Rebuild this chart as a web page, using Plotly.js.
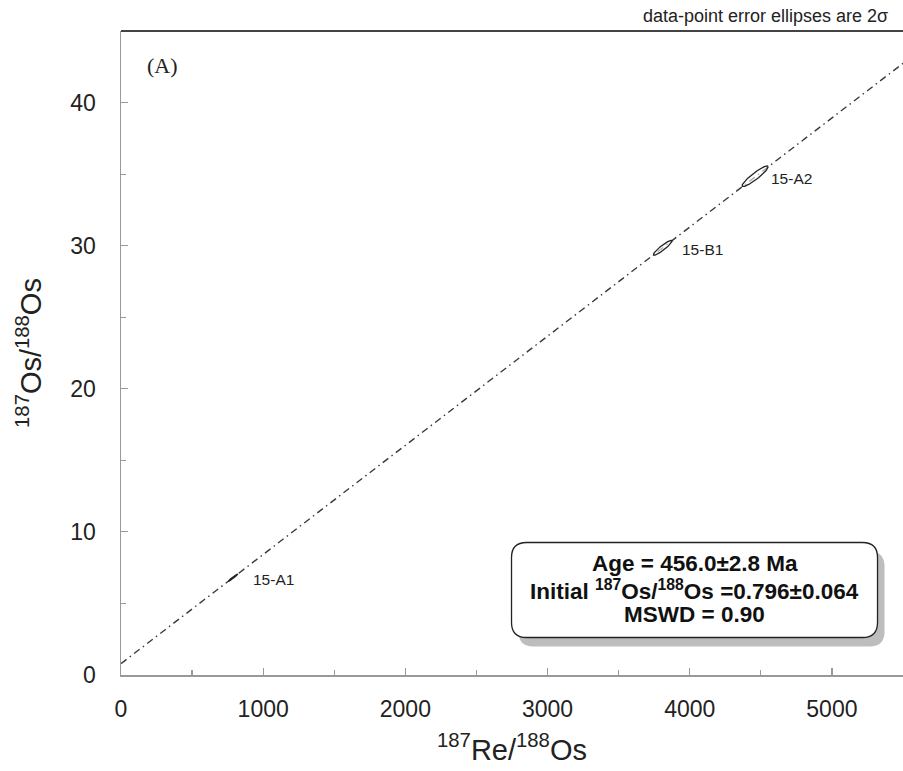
<!DOCTYPE html>
<html>
<head>
<meta charset="utf-8">
<script src="https://cdn.plot.ly/plotly-3.0.1.min.js"></script>
<style>
  html, body { margin: 0; padding: 0; background: #fff; }
  #chart { width: 903px; height: 771px; }
</style>
</head>
<body>
<div id="chart"></div>
<script>
// Re-Os isochron samples: 187Re/188Os, 187Os/188Os, 2-sigma half-widths and error correlation
const sampleNames = ['15-A1', '15-B1', '15-A2'];
const reOs = [788, 3810, 4460];
const osOs = [6.80, 29.85, 34.85];
const err2sRe = [34, 66, 92];
const err2sOs = [0.26, 0.52, 0.72];
const errRho = [0.98, 0.92, 0.92];

// Isochron result
const ageMa = 456.0;
const ageErr = 2.8;
const initialOs = 0.796;
const initialErr = 0.064;
const mswd = 0.90;
const lambdaRe = 1.666e-11; // 187Re decay constant, 1/yr

const xRange = [0, 5500];
const yRange = [0, 45];

const slope = Math.exp(lambdaRe * ageMa * 1e6) - 1;

// error ellipse outline from the 2-sigma half-widths and correlation
function ellipse(cx, cy, sx, sy, rho) {
  const xs = [], ys = [];
  const k = Math.sqrt(1 - rho * rho);
  for (let i = 0; i <= 120; i++) {
    const t = 2 * Math.PI * i / 120;
    xs.push(cx + sx * Math.cos(t));
    ys.push(cy + sy * (rho * Math.cos(t) + k * Math.sin(t)));
  }
  return { xs, ys };
}

const traces = [];

// isochron line
traces.push({
  x: xRange,
  y: xRange.map(v => initialOs + slope * v),
  mode: 'lines',
  line: { color: '#3a3a3a', width: 1.4, dash: '7px,4px,1.5px,4px' },
  hoverinfo: 'skip',
  showlegend: false
});

// error ellipses
for (let i = 0; i < reOs.length; i++) {
  const e = ellipse(reOs[i], osOs[i], err2sRe[i], err2sOs[i], errRho[i]);
  traces.push({
    x: e.xs, y: e.ys,
    mode: 'lines',
    line: { color: '#222', width: 1.3 },
    fill: 'toself',
    fillcolor: 'rgba(255,255,255,0.6)',
    name: sampleNames[i],
    showlegend: false
  });
}

const labelShift = [18, 17, 14];
const annotations = sampleNames.map((n, i) => ({
  x: reOs[i], y: osOs[i], xref: 'x', yref: 'y',
  text: n, showarrow: false,
  xanchor: 'left', yanchor: 'middle', xshift: labelShift[i], yshift: -2,
  font: { family: 'Liberation Sans, Arial, sans-serif', size: 15.5, color: '#222' }
}));

const boxFont = { family: 'Liberation Sans, Arial, sans-serif', size: 22.5, color: '#111' };
const supStyle = 'font-size:15px';
const boxLines = [
  '<b>Age = ' + ageMa.toFixed(1) + '±' + ageErr.toFixed(1) + ' Ma</b>',
  '<b>Initial <sup style="' + supStyle + '">187</sup>Os/<sup style="' + supStyle + '">188</sup>Os =' +
    initialOs.toFixed(3) + '±' + initialErr.toFixed(3) + '</b>',
  '<b>MSWD = ' + mswd.toFixed(2) + '</b>'
];
const boxCx = 0.7334;
const boxLineY = [0.1724, 0.1320, 0.0932];
boxLines.forEach((t, i) => annotations.push({
  x: boxCx, y: boxLineY[i], xref: 'paper', yref: 'paper',
  text: t, showarrow: false, xanchor: 'center', yanchor: 'middle',
  font: boxFont
}));

annotations.push({
  x: 0.031, y: 0.947, xref: 'paper', yref: 'paper',
  text: '(A)', showarrow: false, xanchor: 'left', yanchor: 'middle',
  font: { family: 'Liberation Serif, Times New Roman, serif', size: 22, color: '#222' }
});
annotations.push({
  x: 0.983, y: 1.0, xref: 'paper', yref: 'paper', yshift: 15,
  text: 'data-point error ellipses are 2σ', showarrow: false,
  xanchor: 'right', yanchor: 'middle',
  font: { family: 'Liberation Sans, Arial, sans-serif', size: 18, color: '#222' }
});

// rounded rectangle path in pixels around an anchor
function roundRect(w, h, r, dx, dy) {
  const x0 = -w / 2 + dx, x1 = w / 2 + dx, y0 = -h / 2 + dy, y1 = h / 2 + dy;
  return `M ${x0 + r},${y0} L ${x1 - r},${y0} Q ${x1},${y0} ${x1},${y0 + r} ` +
         `L ${x1},${y1 - r} Q ${x1},${y1} ${x1 - r},${y1} L ${x0 + r},${y1} ` +
         `Q ${x0},${y1} ${x0},${y1 - r} L ${x0},${y0 + r} Q ${x0},${y0} ${x0 + r},${y0} Z`;
}

const shapes = [
  // shadow
  { type: 'path', xref: 'paper', yref: 'paper', xsizemode: 'pixel', ysizemode: 'pixel',
    xanchor: boxCx, yanchor: 0.132, path: roundRect(366, 95, 15, 7, -9),
    fillcolor: '#bdbdbd', line: { width: 0 }, layer: 'below' },
  // box
  { type: 'path', xref: 'paper', yref: 'paper', xsizemode: 'pixel', ysizemode: 'pixel',
    xanchor: boxCx, yanchor: 0.132, path: roundRect(366, 95, 15, 0, 0),
    fillcolor: '#ffffff', line: { color: '#222', width: 1.3 }, layer: 'below' },
  // top frame line
  { type: 'line', xref: 'paper', yref: 'paper', x0: 0, x1: 1, y0: 1, y1: 1,
    line: { color: '#444', width: 2 } }
];

const tickFont = { family: 'Liberation Sans, Arial, sans-serif', size: 23, color: '#222' };
const titleFont = { family: 'Liberation Sans, Arial, sans-serif', size: 29, color: '#222' };
const titleSup = 'font-size:19px';

const layout = {
  width: 903, height: 771,
  margin: { l: 121, r: 0, t: 31, b: 96 },
  paper_bgcolor: '#fff', plot_bgcolor: 'rgba(0,0,0,0)',
  showlegend: false,
  xaxis: {
    range: xRange, dtick: 1000, tick0: 0,
    showgrid: false, zeroline: false,
    showline: true, linecolor: '#999', linewidth: 1.5,
    ticks: 'inside', ticklen: 7, tickcolor: '#999', tickwidth: 1.2,
    minor: { dtick: 500, ticks: 'inside', ticklen: 5, tickcolor: '#999', tickwidth: 1.2 },
    tickfont: tickFont, ticklabelstandoff: 13,
    title: { text: '<sup style="' + titleSup + '">187</sup>Re/<sup style="' + titleSup + '">188</sup>Os',
             font: titleFont, standoff: 18 }
  },
  yaxis: {
    range: yRange, dtick: 10, tick0: 0,
    showgrid: false, zeroline: false,
    showline: true, linecolor: '#999', linewidth: 1.5,
    ticks: 'inside', ticklen: 7, tickcolor: '#999', tickwidth: 1.2,
    minor: { dtick: 5, ticks: 'inside', ticklen: 5, tickcolor: '#999', tickwidth: 1.2 },
    tickfont: tickFont, ticklabelstandoff: 19,
    title: { text: '<sup style="' + titleSup + '">187</sup>Os/<sup style="' + titleSup + '">188</sup>Os',
             font: titleFont, standoff: 20 }
  },
  annotations: annotations,
  shapes: shapes
};

Plotly.newPlot('chart', traces, layout, { displayModeBar: false, staticPlot: true });
</script>
</body>
</html>
